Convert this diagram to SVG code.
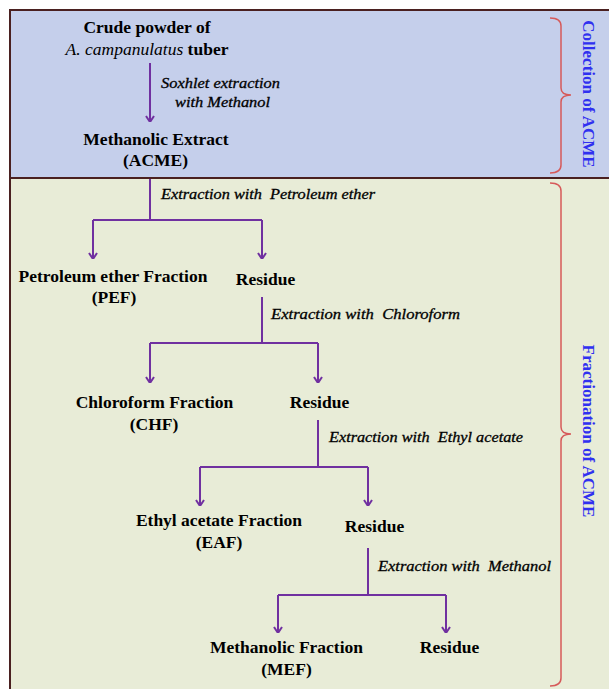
<svg xmlns="http://www.w3.org/2000/svg" width="609" height="689" viewBox="0 0 609 689">
<style>
.b{font-family:"Liberation Serif","Times New Roman",serif;font-weight:bold;font-size:17.5px;fill:#000;text-anchor:middle}
.i{font-family:"Liberation Serif","Times New Roman",serif;font-style:italic;font-size:14.5px;fill:#000;stroke:#000;stroke-width:0.3}
.side{font-family:"Liberation Serif","Times New Roman",serif;font-weight:bold;font-size:17px;fill:#3030f0;text-anchor:middle}
.c{stroke:#7030a0;stroke-width:2;fill:none}
.brace{stroke:#d65a5a;stroke-width:1.5;fill:none}
</style>
<defs>
<marker id="ah" viewBox="0 0 10 10" refX="10" refY="5" markerWidth="10" markerHeight="10" markerUnits="userSpaceOnUse" orient="auto">
<path d="M4,1 L10,5 L4,9" stroke="#7030a0" stroke-width="2" fill="none"/>
</marker>
</defs>
<rect x="0" y="0" width="609" height="689" fill="#fff"/>
<g id="panels">
<rect x="10" y="10" width="610" height="168" fill="#c5cfeb" stroke="#4a2020" stroke-width="2"/>
<rect x="10" y="178" width="610" height="520" fill="#e8ecd7" stroke="#4a2020" stroke-width="2"/>
</g>
<g id="connectors">
<path class="c" d="M150,63 V122" marker-end="url(#ah)"/>
<path class="c" d="M150,179 V220 M93,220 H262"/>
<path class="c" d="M93,220 V259" marker-end="url(#ah)"/>
<path class="c" d="M262,220 V259" marker-end="url(#ah)"/>
<path class="c" d="M262,297 V343 M150,343 H318"/>
<path class="c" d="M150,343 V383" marker-end="url(#ah)"/>
<path class="c" d="M318,343 V383" marker-end="url(#ah)"/>
<path class="c" d="M318,420 V467 M200,467 H368"/>
<path class="c" d="M200,467 V506" marker-end="url(#ah)"/>
<path class="c" d="M368,467 V506" marker-end="url(#ah)"/>
<path class="c" d="M368,548 V595 M278,595 H446"/>
<path class="c" d="M278,595 V633" marker-end="url(#ah)"/>
<path class="c" d="M446,595 V633" marker-end="url(#ah)"/>
</g>
<g id="labels">
<text class="i" x="161" y="88" textLength="119" lengthAdjust="spacingAndGlyphs">Soxhlet extraction</text>
<text class="i" x="175" y="107" textLength="95" lengthAdjust="spacingAndGlyphs">with Methanol</text>
<text class="i" x="161" y="199" textLength="214" lengthAdjust="spacingAndGlyphs" xml:space="preserve">Extraction with  Petroleum ether</text>
<text class="i" x="271" y="319" textLength="189" lengthAdjust="spacingAndGlyphs" xml:space="preserve">Extraction with  Chloroform</text>
<text class="i" x="329" y="442" textLength="194" lengthAdjust="spacingAndGlyphs" xml:space="preserve">Extraction with  Ethyl acetate</text>
<text class="i" x="378" y="571" textLength="173" lengthAdjust="spacingAndGlyphs" xml:space="preserve">Extraction with  Methanol</text>
</g>
<g id="crude">
<text class="b" x="147" y="33">Crude powder of</text>
<text class="b" x="147" y="55"><tspan font-style="italic" font-weight="normal">A. campanulatus</tspan> tuber</text>
</g>
<g id="acme">
<text class="b" x="156" y="145">Methanolic Extract</text>
<text class="b" x="155.5" y="166">(ACME)</text>
</g>
<g id="pef">
<text class="b" x="113" y="282">Petroleum ether Fraction</text>
<text class="b" x="114" y="303">(PEF)</text>
</g>
<g id="residue1"><text class="b" x="265.5" y="285">Residue</text></g>
<g id="chf">
<text class="b" x="154.5" y="408">Chloroform Fraction</text>
<text class="b" x="154" y="430">(CHF)</text>
</g>
<g id="residue2"><text class="b" x="319.5" y="408">Residue</text></g>
<g id="eaf">
<text class="b" x="219" y="526">Ethyl acetate Fraction</text>
<text class="b" x="219" y="548">(EAF)</text>
</g>
<g id="residue3"><text class="b" x="374.5" y="532">Residue</text></g>
<g id="mef">
<text class="b" x="286.5" y="653">Methanolic Fraction</text>
<text class="b" x="286.5" y="675">(MEF)</text>
</g>
<g id="residue4"><text class="b" x="449.5" y="653">Residue</text></g>
<g id="braces">
<path class="brace" d="M550,18 Q561,18 561,26 L561,88 Q561,95 571,95 Q561,95 561,102 L561,165 Q561,173 550,173"/>
<path class="brace" d="M550,183 Q561,183 561,191 L561,427 Q561,434 571,434 Q561,434 561,441 L561,678 Q561,686 550,686"/>
</g>
<g id="side-labels">
<text class="side" transform="translate(588.5,94) rotate(90)" dy="6">Collection of ACME</text>
<text class="side" transform="translate(588.5,431) rotate(90)" dy="6">Fractionation of ACME</text>
</g>
</svg>
